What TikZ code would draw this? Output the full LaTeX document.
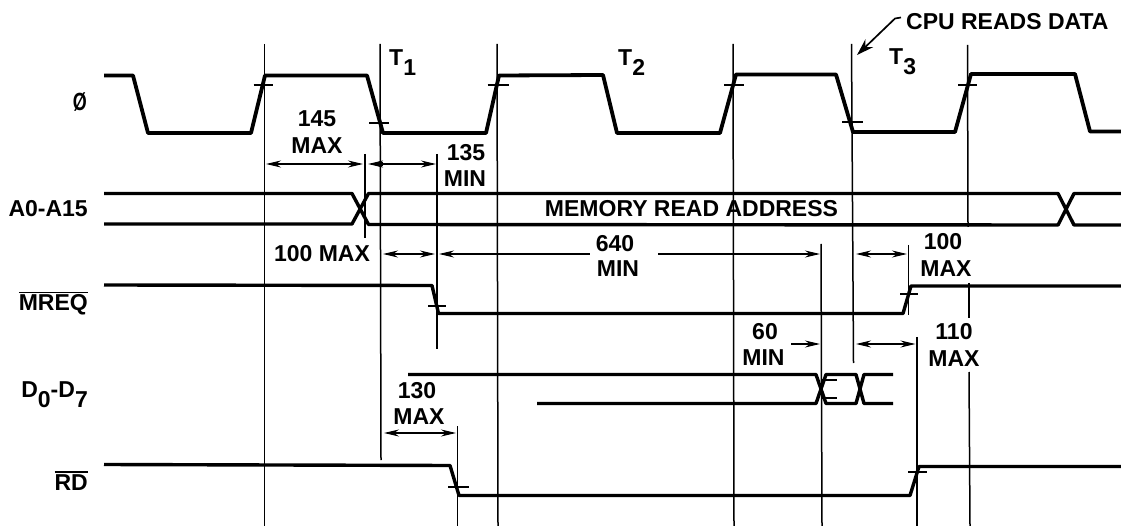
\documentclass[tikz,border=0pt]{standalone}
\usepackage{fontspec}
\setmainfont{Liberation Sans}
\usetikzlibrary{arrows.meta}
\newcommand{\ovl}[1]{\vbox{\hrule height 1.5pt\kern 1.6pt\hbox{#1}}}
\newcommand{\lowr}[1]{\raisebox{-10pt}{#1}}
\tikzset{
  txt/.style={font=\fontsize{23}{25}\selectfont\bfseries,inner sep=0pt,anchor=base},
  lab/.style={txt,anchor=base east},
  wave/.style={line width=3.4pt,line join=round},
  clockwave/.style={line width=3.8pt,line join=round},
  guide/.style={line width=1.5pt},
  tick/.style={line width=1.5pt},
  dim/.style={line width=1.3pt,{Stealth[length=15pt,width=7pt]}-{Stealth[length=15pt,width=7pt]}},
  dimend/.style={line width=1.3pt,-{Stealth[length=15pt,width=7pt]}},
  dimstart/.style={line width=1.3pt,{Stealth[length=15pt,width=7pt]}-}
}
\begin{document}
\begin{tikzpicture}[x=1pt,y=-1pt]
\useasboundingbox (0,0) rectangle (1121,526);
% guides
\draw[guide] (264.5,44) -- (264.5,526);
\draw[guide] (380,44) -- (381,460);
\draw[guide] (497,44) -- (498,526);
\draw[guide] (733,44) -- (734,526);
\draw[guide] (851.5,44) -- (853.5,363);
\draw[guide] (967.5,45) -- (968,227);
\draw[guide] (969,283) -- (969,318);
\draw[guide] (969,372) -- (970,526);
\draw[guide] (365,154) -- (365,238);
\draw[guide] (437,154) -- (437,349);
\draw[guide] (457.5,426) -- (457.5,526);
\draw[guide] (821,244) -- (822,526);
\draw[guide] (908.5,245) -- (908.5,315);
\draw[guide] (917,337) -- (917,526);
% clock
\draw[clockwave] (104,75.5) -- (133,75.5) -- (148,133) -- (251,133) -- (265,75.5) -- (367,75.5) -- (383,133) -- (486,133) -- (499,75.5) -- (603,75) -- (617,133) -- (720,133) -- (736,74.5) -- (836,74.5) -- (853,132) -- (955,132) -- (971,74) -- (1075,74) -- (1090,131.5) -- (1121,131.5);
\foreach \xa/\xb/\yy in {253.5/273/85,487.5/509/85,724/744/85,958/977/85,369/389/123,842/863/122}
  \draw[tick] (\xa,\yy) -- (\xb,\yy);
% address
\draw[wave] (104,193.5) -- (352,193.5) -- (368.5,224.5) -- (1058,225) -- (1074,193.5) -- (1121,193.5);
\draw[wave] (104,224) -- (352,224) -- (368.5,193.5) -- (1058,193.5) -- (1074,225) -- (1121,225);
% MREQ
\draw[wave] (104,285) -- (432,285.5) -- (438.5,313.5) -- (903,313.5) -- (911,286) -- (1121,286);
\draw[tick] (428,306) -- (446,306);
\draw[tick] (900,294) -- (918,294);
% data
\draw[wave] (408,374.5) -- (816,374.5) -- (826,403.5) -- (856,403.5) -- (864,374.5) -- (893,374.5);
\draw[wave] (537,403.5) -- (816,403.5) -- (826,374.5) -- (856,374.5) -- (864,403.5) -- (893,403.5);
\draw[tick] (822,380) -- (837,380);
\draw[tick] (822,398) -- (837,398);
% RD
\draw[wave] (104,464.5) -- (450,465.5) -- (459,495.5) -- (910,495.5) -- (919,466.5) -- (1121,466.5);
\draw[tick] (448,487) -- (469,487);
\draw[tick] (908,472) -- (927,472);
% dimension arrows
\draw[dim] (266,164) -- (363,164);
\draw[dim] (368,164) -- (436,164);
\fill (380.5,164) circle (3pt);
\draw[dim] (383,254) -- (435,254);
\draw[dimstart] (439,254) -- (590,254);
\draw[dimend] (658,254) -- (820,254);
\draw[dim] (856,254) -- (907,254);
\draw[dimend] (791,344) -- (820,344);
\draw[dim] (856,344) -- (915.5,344);
\draw[dim] (384,433) -- (456,433);
% CPU reads data
\coordinate (cpustart) at (901,17.5);
\coordinate (cpubend) at (895,18.5);
\coordinate (cputip) at (857,55);
\draw[line width=1.7pt,-{Stealth[length=17pt,width=11pt]}] (cpustart) -- (cpubend) -- (cputip);
% text
\node[txt,anchor=base west] (cpu) at (906,30) {CPU READS DATA};
\node[txt] (mem) at (691.5,217) {MEMORY READ ADDRESS};
\node[lab] (phi) at (87,110.5) {\scalebox{0.78}[1.08]{Ø}};
\node[lab] (addr) at (88,216.5) {A0-A15};
\node[lab] (mreq) at (88,311) {\ovl{MREQ}};
\node[lab] (rd) at (88,490) {\ovl{RD}};
\node[lab] (data) at (88,397.5) {D\lowr{0}-D\lowr{7}};
\node[txt,anchor=base west] (tone) at (389,66) {T\lowr{1}};
\node[txt,anchor=base west] (ttwo) at (618,66) {T\lowr{2}};
\node[txt,anchor=base west] (tthree) at (889,65) {T\lowr{3}};
\node[txt] (a1) at (317,127) {145};
\node[txt] (a2) at (317,154) {MAX};
\node[txt] (b1) at (466,160.5) {135};
\node[txt] (b2) at (465,187) {MIN};
\node[txt] (c1) at (322,262) {100 MAX};
\node[txt] (d1) at (615,251.5) {640};
\node[txt] (d2) at (618,277) {MIN};
\node[txt] (e1) at (943,250) {100};
\node[txt] (e2) at (946,276.5) {MAX};
\node[txt] (f1) at (765,340) {60};
\node[txt] (f2) at (763.5,365.5) {MIN};
\node[txt] (g1) at (954,340) {110};
\node[txt] (g2) at (954,366) {MAX};
\node[txt] (h1) at (417,398) {130};
\node[txt] (h2) at (419,424) {MAX};
\end{tikzpicture}
\end{document}
